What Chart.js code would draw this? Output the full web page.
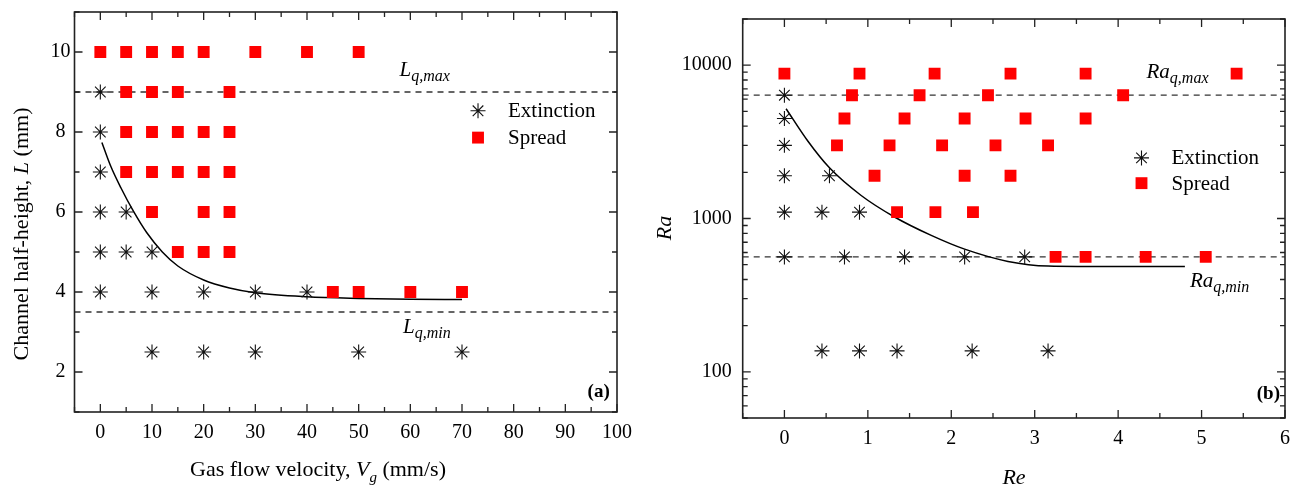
<!DOCTYPE html>
<html>
<head>
<meta charset="utf-8">
<script src="https://cdn.jsdelivr.net/npm/chart.js@4.4.1/dist/chart.umd.min.js"></script>
<style>
  html, body { margin: 0; padding: 0; background: #fff; }
  #wrap { position: relative; width: 1296px; height: 486px; overflow: hidden; }
  canvas { position: absolute; top: 0; }
  #chartA { left: 0; }
  #chartB { left: 650px; }
</style>
</head>
<body>
<div id="wrap">
  <canvas id="chartA" width="650" height="486"></canvas>
  <canvas id="chartB" width="646" height="486"></canvas>
</div>
<script>
// ---- panel (a): channel half-height vs gas flow velocity ----
const spreadVel = [0, 5, 10, 15, 20, 30, 40, 50, 5, 10, 15, 25, 5, 10, 15, 20, 25, 5, 10, 15, 20, 25, 10, 20, 25, 15, 20, 25, 45, 50, 60, 70];
const spreadL   = [10, 10, 10, 10, 10, 10, 10, 10, 9, 9, 9, 9, 8, 8, 8, 8, 8, 7, 7, 7, 7, 7, 6, 6, 6, 5, 5, 5, 4, 4, 4, 4];
const extVel = [0, 0, 0, 0, 5, 0, 5, 10, 0, 10, 20, 30, 40, 10, 20, 30, 50, 70];
const extL   = [9, 8, 7, 6, 6, 5, 5, 5, 4, 4, 4, 4, 4, 2.5, 2.5, 2.5, 2.5, 2.5];
const fitVel = [0.3, 2, 4, 6.4, 9, 12, 15, 20, 25, 30, 40, 50, 60, 70];
const fitL   = [7.74, 7.15, 6.6, 6.02, 5.48, 5.0, 4.65, 4.3, 4.1, 3.98, 3.88, 3.84, 3.82, 3.81];
const lqMax = 9, lqMin = 3.5;
const xTicksA = [-5, 0, 5, 10, 15, 20, 25, 30, 35, 40, 45, 50, 55, 60, 65, 70, 75, 80, 85, 90, 95, 100];
const xLabelsA = [0, 10, 20, 30, 40, 50, 60, 70, 80, 90, 100];
const yTicksA = [1, 2, 3, 4, 5, 6, 7, 8, 9, 10, 11];
const yLabelsA = [2, 4, 6, 8, 10];

// ---- panel (b): Ra vs Re ----
const spreadRe = [0, 0.9, 1.8, 2.71, 3.61, 5.42, 0.81, 1.62, 2.44, 4.06, 0.72, 1.44, 2.16, 2.89, 3.61,
                  0.63, 1.26, 1.89, 2.53, 3.16, 1.08, 2.16, 2.71, 1.35, 1.81, 2.26, 3.25, 3.61, 4.33, 5.05];
const spreadRa = [8800, 8800, 8800, 8800, 8800, 8800, 6370, 6370, 6370, 6370, 4490, 4490, 4490, 4490, 4490,
                  3000, 3000, 3000, 3000, 3000, 1900, 1900, 1900, 1100, 1100, 1100, 562, 562, 562, 562];
const extRe = [0, 0, 0, 0, 0.54, 0, 0.45, 0.9, 0, 0.72, 1.44, 2.16, 2.88, 0.45, 0.9, 1.35, 2.25, 3.16];
const extRa = [6370, 4490, 3000, 1900, 1900, 1100, 1100, 1100, 562, 562, 562, 562, 562, 137, 137, 137, 137, 137];
const fitRe = [0.02, 0.28, 0.54, 0.92, 1.32, 1.76, 2.16, 2.68, 3.16, 4.0, 4.8];
const fitRa = [5200, 3200, 2140, 1413, 1023, 776, 631, 525, 490, 486, 486];
const raqMax = 6370, raqMin = 562;
const xTicksB = [-0.5, 0, 0.5, 1, 1.5, 2, 2.5, 3, 3.5, 4, 4.5, 5, 5.5, 6];
const xLabelsB = [0, 1, 2, 3, 4, 5, 6];
const yTicksB = [50, 60, 70, 80, 90, 100, 200, 300, 400, 500, 600, 700, 800, 900, 1000,
                 2000, 3000, 4000, 5000, 6000, 7000, 8000, 9000, 10000, 20000];
const yLabelsB = [100, 1000, 10000];

const SERIF = "'Liberation Serif', 'Times New Roman', serif";
Chart.defaults.font.family = SERIF;
Chart.defaults.color = '#000';

const pts = (xs, ys) => xs.map((x, i) => ({ x, y: ys[i] }));

function richText(ctx, parts, x, y, align) {
  let w = 0;
  parts.forEach(p => { ctx.font = p.font; w += ctx.measureText(p.t).width; });
  let cx = align === 'center' ? x - w / 2 : align === 'right' ? x - w : x;
  ctx.textAlign = 'left';
  ctx.textBaseline = 'alphabetic';
  parts.forEach(p => {
    ctx.font = p.font;
    ctx.fillText(p.t, cx, y + (p.dy || 0));
    cx += ctx.measureText(p.t).width;
  });
}

// frame, inward ticks, titles, annotations and legend
function decorPlugin(cfg) {
  return {
    id: 'decor',
    afterDraw(chart) {
      const { ctx, chartArea: a, scales } = chart;
      const sx = scales.x, sy = scales.y;
      ctx.save();
      ctx.strokeStyle = '#222';
      ctx.lineWidth = 1.6;
      ctx.strokeRect(a.left, a.top, a.right - a.left, a.bottom - a.top);
      ctx.lineWidth = 1.3;
      ctx.beginPath();
      cfg.xTicks.forEach(v => {
        const p = sx.getPixelForValue(v);
        const len = cfg.xLabels.includes(v) ? 8 : 5;
        ctx.moveTo(p, a.bottom); ctx.lineTo(p, a.bottom - len);
        ctx.moveTo(p, a.top); ctx.lineTo(p, a.top + len);
      });
      cfg.yTicks.forEach(v => {
        const p = sy.getPixelForValue(v);
        const len = cfg.yLabels.includes(v) ? 8 : 5;
        ctx.moveTo(a.left, p); ctx.lineTo(a.left + len, p);
        ctx.moveTo(a.right, p); ctx.lineTo(a.right - len, p);
      });
      ctx.stroke();

      ctx.fillStyle = '#000';
      // axis titles
      richText(ctx, cfg.xTitle, cfg.xTitlePos[0], cfg.xTitlePos[1], 'center');
      ctx.save();
      ctx.translate(cfg.yTitlePos[0], cfg.yTitlePos[1]);
      ctx.rotate(-Math.PI / 2);
      richText(ctx, cfg.yTitle, 0, 0, 'center');
      ctx.restore();

      // annotations in data coordinates
      cfg.notes.forEach(n => {
        richText(ctx, n.parts, sx.getPixelForValue(n.x), sy.getPixelForValue(n.y), n.align || 'left');
      });

      // legend
      const lx = sx.getPixelForValue(cfg.legend.x);
      const ds = chart.data.datasets;
      cfg.legend.rows.forEach(r => {
        const d = ds[r.ds];
        const ly = sy.getPixelForValue(r.y);
        ctx.fillStyle = d.backgroundColor;
        ctx.strokeStyle = d.borderColor;
        ctx.lineWidth = d.borderWidth;
        Chart.helpers.drawPoint(ctx, { pointStyle: d.pointStyle, radius: d.pointRadius, borderWidth: d.borderWidth, rotation: 0 }, lx, ly);
        ctx.fillStyle = '#000';
        ctx.font = '21px ' + SERIF;
        ctx.textAlign = 'left';
        ctx.textBaseline = 'middle';
        ctx.fillText(r.label, lx + 30, ly + 1);
      });
      ctx.restore();
    }
  };
}

function datasets(spread, ext, fit, hLines, xr) {
  return [
    { label: 'Extinction', data: ext, showLine: false, pointStyle: 'star', pointRadius: 7.5,
      borderColor: '#111', backgroundColor: '#111', borderWidth: 1.1, order: 0 },
    { label: 'Spread', data: spread, showLine: false, pointStyle: 'rect', pointRadius: 8.4,
      borderColor: '#ff0000', backgroundColor: '#ff0000', borderWidth: 0, order: 1 },
    { label: 'fit', type: 'line', data: fit, pointRadius: 0, borderColor: '#000', borderWidth: 1.5,
      cubicInterpolationMode: 'monotone', fill: false, order: 2 },
    { label: 'max', type: 'line', data: [{ x: xr[0], y: hLines[0] }, { x: xr[1], y: hLines[0] }],
      pointRadius: 0, borderColor: '#333', borderWidth: 1.3, borderDash: [6, 5], order: 3 },
    { label: 'min', type: 'line', data: [{ x: xr[0], y: hLines[1] }, { x: xr[1], y: hLines[1] }],
      pointRadius: 0, borderColor: '#333', borderWidth: 1.3, borderDash: [6, 5], order: 3 }
  ];
}

function options(o) {
  return {
    responsive: false,
    animation: false,
    devicePixelRatio: 1,
    layout: { padding: o.padding },
    plugins: { legend: { display: false }, tooltip: { enabled: false } },
    scales: {
      x: {
        type: 'linear', min: o.xMin, max: o.xMax,
        grid: { display: false, drawTicks: false }, border: { display: false },
        afterBuildTicks: s => { s.ticks = o.xTicks.map(v => ({ value: v })); },
        afterFit: s => { s.height = o.xHeight; s.paddingLeft = 0; s.paddingRight = 0; },
        ticks: { autoSkip: false, maxRotation: 0, padding: 9, font: { size: 20 },
                 callback: v => o.xLabels.includes(v) ? String(v) : '' }
      },
      y: {
        type: o.yType, min: o.yMin, max: o.yMax,
        grid: { display: false, drawTicks: false }, border: { display: false },
        afterBuildTicks: s => { s.ticks = o.yTicks.map(v => ({ value: v })); },
        afterFit: s => { s.width = o.yWidth; s.paddingTop = 0; s.paddingBottom = 0; },
        ticks: { autoSkip: false, padding: o.yPad, crossAlign: o.yAlign, font: { size: 20 },
                 callback: v => o.yLabels.includes(v) ? String(v) : '' }
      }
    }
  };
}

const it = sz => 'italic ' + sz + 'px ' + SERIF;
const rm = sz => sz + 'px ' + SERIF;

new Chart(document.getElementById('chartA'), {
  type: 'scatter',
  data: { datasets: datasets(pts(spreadVel, spreadL), pts(extVel, extL), pts(fitVel, fitL), [lqMax, lqMin], [-5, 100]) },
  options: options({
    padding: { top: 12, right: 33, left: 0, bottom: 0 },
    xMin: -5, xMax: 100, xTicks: xTicksA, xLabels: xLabelsA, xHeight: 74,
    yType: 'linear', yMin: 1, yMax: 11, yTicks: yTicksA, yLabels: yLabelsA, yWidth: 74.5, yPad: 4, yAlign: 'center'
  }),
  plugins: [decorPlugin({
    xTicks: xTicksA, xLabels: xLabelsA, yTicks: yTicksA, yLabels: yLabelsA,
    xTitle: [{ t: 'Gas flow velocity, ', font: rm(22) }, { t: 'V', font: it(22) },
             { t: 'g', font: it(15), dy: 6 }, { t: ' (mm/s)', font: rm(22) }],
    xTitlePos: [318, 476],
    yTitle: [{ t: 'Channel half-height, ', font: rm(22) }, { t: 'L', font: it(22) }, { t: ' (mm)', font: rm(22) }],
    yTitlePos: [28, 234],
    notes: [
      { x: 57.9, y: 9.4, parts: [{ t: 'L', font: it(21) }, { t: 'q,max', font: it(16), dy: 5 }] },
      { x: 58.6, y: 2.97, parts: [{ t: 'L', font: it(21) }, { t: 'q,min', font: it(16), dy: 5 }] },
      { x: 98.6, y: 1.37, align: 'right', parts: [{ t: '(a)', font: 'bold 19px ' + SERIF }] }
    ],
    legend: { x: 73.1, rows: [{ ds: 0, y: 8.53, label: 'Extinction' }, { ds: 1, y: 7.86, label: 'Spread' }] }
  })]
});

new Chart(document.getElementById('chartB'), {
  type: 'scatter',
  data: { datasets: datasets(pts(spreadRe, spreadRa), pts(extRe, extRa), pts(fitRe, fitRa), [raqMax, raqMin], [-0.5, 6]) },
  options: options({
    padding: { top: 19, right: 11, left: 0, bottom: 0 },
    xMin: -0.5, xMax: 6, xTicks: xTicksB, xLabels: xLabelsB, xHeight: 68,
    yType: 'logarithmic', yMin: 50, yMax: 20000, yTicks: yTicksB, yLabels: yLabelsB, yWidth: 92.7, yPad: 11, yAlign: 'near'
  }),
  plugins: [decorPlugin({
    xTicks: xTicksB, xLabels: xLabelsB, yTicks: yTicksB, yLabels: yLabelsB,
    xTitle: [{ t: 'Re', font: it(22) }],
    xTitlePos: [364, 484],
    yTitle: [{ t: 'Ra', font: it(22) }],
    yTitlePos: [21, 228],
    notes: [
      { x: 4.34, y: 8220, parts: [{ t: 'Ra', font: it(21) }, { t: 'q,max', font: it(16), dy: 5 }] },
      { x: 4.86, y: 357, parts: [{ t: 'Ra', font: it(21) }, { t: 'q,min', font: it(16), dy: 5 }] },
      { x: 5.94, y: 67, align: 'right', parts: [{ t: '(b)', font: 'bold 19px ' + SERIF }] }
    ],
    legend: { x: 4.28, rows: [{ ds: 0, y: 2485, label: 'Extinction' }, { ds: 1, y: 1700, label: 'Spread' }] }
  })]
});
</script>
</body>
</html>
